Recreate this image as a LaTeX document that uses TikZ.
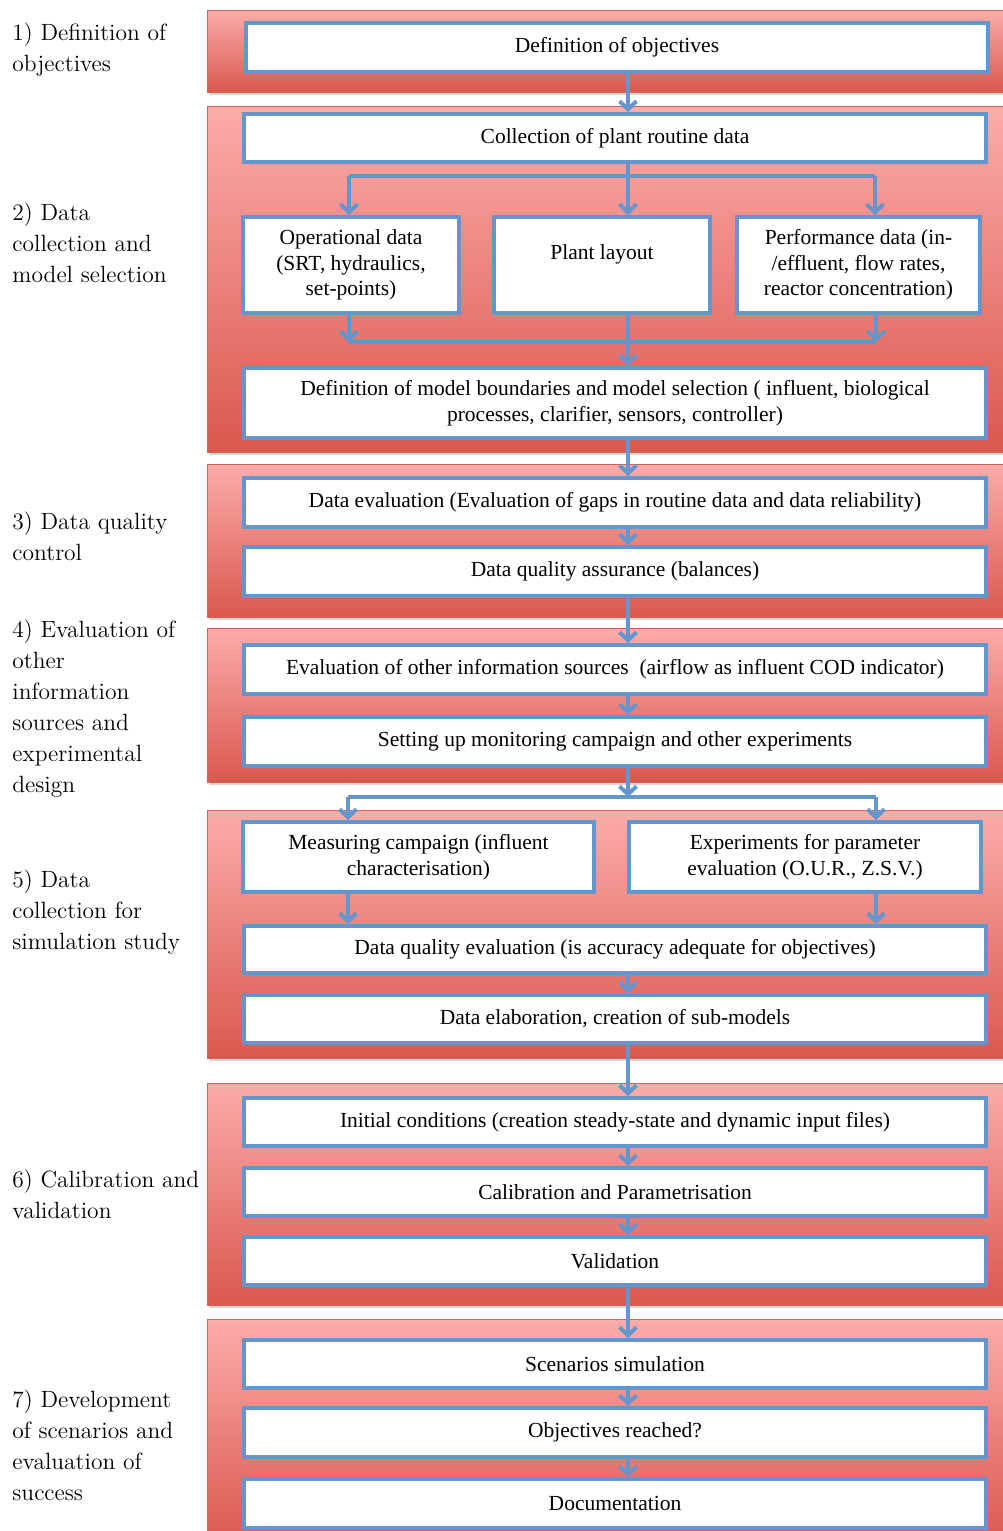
\documentclass[tikz,border=0pt]{standalone}
\usepackage{fontspec}
\newfontfamily\boxfont{Liberation Serif}
\usepackage{tikz}
\usetikzlibrary{arrows.meta,shadows}
\usepackage{xcolor}
\definecolor{boxblue}{RGB}{100,150,205}
\definecolor{panellight}{RGB}{252,172,170}
\definecolor{paneldark}{RGB}{218,88,78}
\definecolor{panelline}{RGB}{214,96,90}

\begin{document}
\begin{tikzpicture}[x=0.5pt,y=-0.5pt,
  panel/.style={draw=panelline,line width=0.5pt,top color=panellight,bottom color=paneldark,
    drop shadow={shadow xshift=0.8pt,shadow yshift=-1.5pt,opacity=0.3}},
  stepbox/.style={draw=boxblue,line width=2pt,fill=white,inner sep=0pt,align=center,
    minimum width=371pt,minimum height=24.5pt,font=\boxfont\fontsize{10.75}{12.75}\selectfont},
  arr/.style={draw=boxblue,line width=2pt,-{Straight Barb[length=4pt,width=8.5pt]}},
  lnk/.style={draw=boxblue,line width=2pt},
  stage/.style={anchor=north west,inner sep=0pt,align=left,font=\fontsize{11.75}{15.5}\selectfont}]
\path[use as bounding box,fill=white] (0,0) rectangle (1002,1531);

% bandes des étapes
\foreach \t/\b in {10/92,106/452,464/617,628/782,810/1058,1083/1305,1319/1545} {
    \draw[panel] (207,\t) rectangle (1010,\b);
}

% étiquettes à gauche
\node (lab1) at (12,22) [stage] {1) Definition of\\objectives};
\node (lab2) at (12,202) [stage] {2) Data\\collection and\\model selection};
\node (lab3) at (12,511) [stage] {3) Data quality\\control};
\node (lab4) at (12,619) [stage] {4) Evaluation of\\other\\information\\sources and\\experimental\\design};
\node (lab5) at (12,869) [stage] {5) Data\\collection for\\simulation study};
\node (lab6) at (12,1169) [stage] {6) Calibration and\\validation};
\node (lab7) at (12,1389) [stage] {7) Development\\of scenarios and\\evaluation of\\success};

% boîtes
\node (obj) at (617,47.5) [stepbox] {Definition of objectives};
\node (coll) at (615,138) [stepbox,minimum height=24pt] {Collection of plant routine data};
\node (oper) at (351,265) [stepbox,minimum width=108pt,minimum height=48pt] {Operational data\\(SRT, hydraulics,\\set-points)};
\node (layout) at (602,265) [stepbox,minimum width=108pt,minimum height=48pt] {Plant layout\\\mbox{}};
\node (perf) at (858.5,265) [stepbox,minimum width=121.5pt,minimum height=48pt] {Performance data (in-\\/effluent, flow rates,\\reactor concentration)};
\node (defn) at (615,403) [stepbox,minimum height=35pt] {Definition of model boundaries and model selection ( influent, biological\\processes, clarifier, sensors, controller)};
\node (deval) at (615,502.5) [stepbox] {Data evaluation (Evaluation of gaps in routine data and data reliability)};
\node (dqa) at (615,571.5) [stepbox] {Data quality assurance (balances)};
\node (evalo) at (615,669.5) [stepbox] {Evaluation of other information sources~ (airflow as influent COD indicator)};
\node (setup) at (615,741.5) [stepbox] {Setting up monitoring campaign and other experiments};
\node (meas) at (418.5,857) [stepbox,minimum width=175.5pt,minimum height=35pt] {Measuring campaign (influent\\characterisation)};
\node (expt) at (805,857) [stepbox,minimum width=176pt,minimum height=35pt] {Experiments for parameter\\evaluation (O.U.R., Z.S.V.)};
\node (dqe) at (615,949.5) [stepbox,minimum height=23.5pt] {Data quality evaluation (is accuracy adequate for objectives)};
\node (delab) at (615,1019) [stepbox,minimum height=24pt] {Data elaboration, creation of sub-models};
\node (init) at (615,1122) [stepbox,minimum height=24pt] {Initial conditions (creation steady-state and dynamic input files)};
\node (calib) at (615,1192) [stepbox,minimum height=24pt] {Calibration and Parametrisation};
\node (valid) at (615,1261) [stepbox,minimum height=24pt] {Validation};
\node (scen) at (615,1364) [stepbox,minimum height=24pt] {Scenarios simulation};
\node (objr) at (615,1432.5) [stepbox] {Objectives reached?};
\node (doc) at (615,1503.5) [stepbox] {Documentation};

% flèches
\coordinate (spine) at (628,0);
\coordinate (brL) at (349,176);
\coordinate (brR) at (875,176);
\coordinate (mgL) at (349,342);
\coordinate (mgR) at (876,342);
\coordinate (sbL) at (348,797);
\coordinate (sbR) at (876,797);
\draw[arr] (obj.south -| spine) -- (coll.north -| spine);
\draw[arr] (coll.south -| spine) -- (layout.north -| spine);
\draw[lnk] (brL) -- (brR);
\draw[arr] (brL) -- (oper.north -| brL);
\draw[arr] (brR) -- (perf.north -| brR);
\draw[lnk] (mgL) -- (mgR);
\draw[arr] (oper.south -| mgL) -- (mgL);
\draw[arr] (perf.south -| mgR) -- (mgR);
\draw[arr] (layout.south -| spine) -- (defn.north -| spine);
\foreach \a/\b in {defn/deval,deval/dqa,dqa/evalo,evalo/setup,dqe/delab,delab/init,init/calib,calib/valid,valid/scen,scen/objr,objr/doc} {
    \draw[arr] (\a.south -| spine) -- (\b.north -| spine);
}
\draw[arr] (setup.south -| spine) -- (spine |- sbL);
\draw[lnk] (sbL) -- (sbR);
\draw[arr] (sbL) -- (meas.north -| sbL);
\draw[arr] (sbR) -- (expt.north -| sbR);
\draw[arr] (meas.south -| sbL) -- (dqe.north -| sbL);
\draw[arr] (expt.south -| sbR) -- (dqe.north -| sbR);
\end{tikzpicture}
\end{document}
